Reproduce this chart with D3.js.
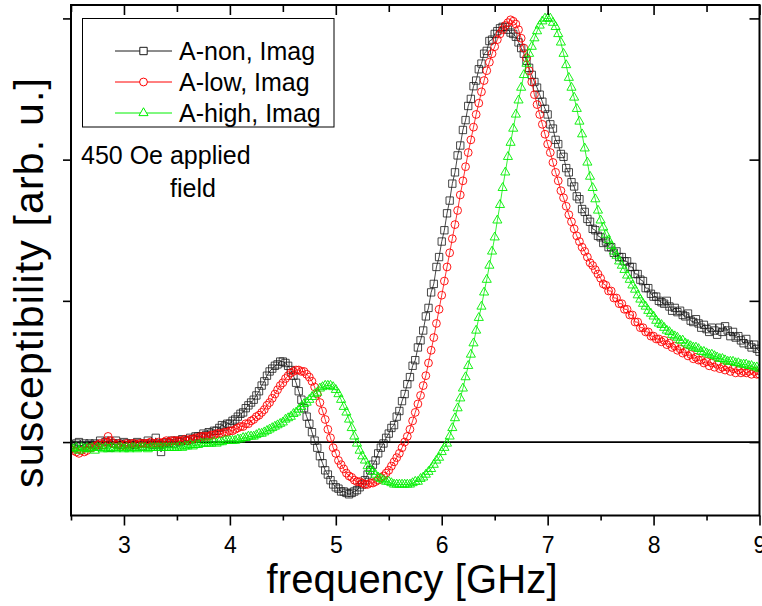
<!DOCTYPE html>
<html>
<head>
<meta charset="utf-8">
<script src="https://cdn.jsdelivr.net/npm/d3@7"></script>
<style>
  html, body { margin: 0; padding: 0; background: #fff; }
  svg { display: block; font-family: "Liberation Sans", Arial, sans-serif; }
</style>
</head>
<body>
<svg id="chart" width="762" height="606"></svg>
<script>
// Imaginary susceptibility spectra, sampled on a uniform frequency grid (GHz)
const freqStart = 2.5;
const freqStep = 0.025;

const seriesNames = ["A-non, Imag", "A-low, Imag", "A-high, Imag"];

const aNon = [
  -0.02,-0.04,-0.01,0.00,-0.03,-0.01,-0.04,-0.01,-0.02,-0.01,-0.03,0.01,-0.02,0.00,0.01,-0.04,-0.01,0.01,-0.01,-0.02,
  0.00,-0.01,-0.03,-0.01,-0.02,0.00,-0.01,-0.03,-0.01,0.01,-0.01,-0.02,0.03,-0.01,-0.07,-0.01,0.00,-0.01,0.01,-0.01,
  0.01,0.00,0.02,0.01,0.01,0.03,0.02,0.04,0.04,0.04,0.06,0.05,0.07,0.06,0.08,0.08,0.10,0.12,0.11,0.13,
  0.13,0.15,0.16,0.18,0.20,0.21,0.24,0.26,0.28,0.30,0.33,0.36,0.40,0.43,0.47,0.50,0.52,0.54,0.55,0.57,
  0.57,0.56,0.54,0.51,0.47,0.42,0.36,0.30,0.24,0.18,0.13,0.07,0.01,-0.04,-0.10,-0.15,-0.20,-0.23,-0.27,-0.30,
  -0.32,-0.33,-0.35,-0.35,-0.36,-0.37,-0.36,-0.35,-0.34,-0.32,-0.30,-0.27,-0.23,-0.20,-0.16,-0.13,-0.08,-0.04,-0.01,0.03,
  0.06,0.10,0.12,0.18,0.22,0.29,0.34,0.41,0.46,0.54,0.58,0.67,0.72,0.79,0.89,0.95,1.06,1.12,1.24,1.31,
  1.42,1.50,1.62,1.71,1.83,1.91,2.03,2.10,2.21,2.28,2.38,2.43,2.52,2.56,2.64,2.68,2.75,2.77,2.84,2.85,
  2.89,2.91,2.93,2.94,2.94,2.92,2.90,2.89,2.87,2.83,2.79,2.75,2.70,2.65,2.60,2.55,2.51,2.46,2.41,2.36,
  2.32,2.25,2.22,2.14,2.11,2.04,2.02,1.94,1.91,1.84,1.81,1.74,1.72,1.65,1.63,1.58,1.56,1.51,1.50,1.46,
  1.45,1.41,1.42,1.38,1.38,1.34,1.35,1.31,1.31,1.28,1.28,1.24,1.24,1.19,1.19,1.15,1.14,1.09,1.09,1.05,
  1.03,1.03,1.00,0.99,0.98,1.00,0.96,0.93,0.95,0.92,0.93,0.90,0.89,0.91,0.86,0.85,0.87,0.84,0.81,0.83,
  0.80,0.78,0.81,0.79,0.76,0.81,0.78,0.82,0.79,0.75,0.78,0.74,0.75,0.72,0.70,0.73,0.69,0.67,0.69,0.66,
  0.64
];

const aLow = [
  -0.05,-0.06,-0.07,-0.08,-0.06,-0.07,-0.06,-0.04,-0.04,-0.03,-0.02,-0.01,-0.02,0.00,0.04,0.01,-0.01,-0.02,-0.01,-0.03,
  -0.02,-0.01,-0.02,-0.01,-0.01,-0.02,-0.01,-0.01,-0.01,-0.01,0.00,-0.01,-0.01,0.00,-0.01,0.00,0.01,0.00,0.01,0.01,
  0.01,0.01,0.01,0.02,0.01,0.02,0.02,0.03,0.03,0.04,0.04,0.04,0.04,0.05,0.05,0.06,0.06,0.06,0.07,0.07,
  0.08,0.08,0.09,0.10,0.11,0.11,0.13,0.13,0.15,0.16,0.18,0.19,0.21,0.23,0.26,0.28,0.31,0.34,0.37,0.40,
  0.42,0.45,0.47,0.49,0.50,0.51,0.51,0.50,0.50,0.48,0.46,0.43,0.39,0.34,0.28,0.22,0.16,0.09,0.03,-0.04,
  -0.08,-0.13,-0.16,-0.19,-0.22,-0.24,-0.25,-0.27,-0.28,-0.28,-0.29,-0.30,-0.30,-0.29,-0.29,-0.28,-0.27,-0.25,-0.24,-0.22,
  -0.20,-0.17,-0.14,-0.11,-0.08,-0.04,0.00,0.04,0.09,0.15,0.21,0.27,0.33,0.40,0.47,0.56,0.65,0.74,0.84,0.94,
  1.04,1.14,1.24,1.34,1.44,1.54,1.64,1.75,1.85,1.95,2.05,2.14,2.23,2.32,2.40,2.48,2.56,2.63,2.69,2.75,
  2.80,2.85,2.89,2.92,2.95,2.97,2.99,2.98,2.96,2.92,2.86,2.79,2.72,2.63,2.55,2.46,2.39,2.32,2.25,2.18,
  2.11,2.05,1.98,1.91,1.85,1.78,1.73,1.67,1.61,1.56,1.51,1.46,1.42,1.38,1.35,1.31,1.27,1.25,1.22,1.19,
  1.16,1.12,1.11,1.07,1.07,1.02,1.02,0.98,0.98,0.94,0.94,0.90,0.90,0.85,0.85,0.81,0.81,0.78,0.78,0.75,
  0.75,0.73,0.73,0.71,0.72,0.69,0.70,0.67,0.68,0.65,0.66,0.63,0.64,0.61,0.62,0.59,0.60,0.58,0.58,0.56,
  0.57,0.54,0.56,0.53,0.55,0.52,0.53,0.51,0.53,0.50,0.52,0.49,0.51,0.49,0.50,0.49,0.50,0.48,0.50,0.48,
  0.48
];

const aHigh = [
  -0.04,-0.05,-0.04,-0.06,-0.04,-0.05,-0.04,-0.05,-0.04,-0.06,-0.04,-0.04,-0.05,-0.04,-0.05,-0.04,-0.04,-0.05,-0.04,-0.04,
  -0.05,-0.04,-0.05,-0.04,-0.04,-0.05,-0.04,-0.04,-0.04,-0.05,-0.04,-0.04,-0.04,-0.04,-0.04,-0.04,-0.04,-0.04,-0.04,-0.04,
  -0.04,-0.03,-0.04,-0.03,-0.03,-0.02,-0.03,-0.02,-0.02,-0.01,-0.01,-0.01,-0.01,-0.01,0.00,-0.01,0.00,0.00,0.01,0.01,
  0.01,0.01,0.01,0.02,0.02,0.03,0.03,0.04,0.04,0.04,0.05,0.06,0.06,0.07,0.08,0.09,0.10,0.11,0.12,0.13,
  0.14,0.16,0.17,0.18,0.20,0.21,0.23,0.25,0.27,0.28,0.30,0.32,0.34,0.35,0.38,0.39,0.40,0.40,0.40,0.39,
  0.37,0.34,0.30,0.25,0.21,0.16,0.10,0.04,-0.01,-0.06,-0.10,-0.13,-0.17,-0.19,-0.21,-0.23,-0.25,-0.26,-0.27,-0.28,
  -0.28,-0.29,-0.30,-0.30,-0.30,-0.30,-0.30,-0.30,-0.30,-0.29,-0.28,-0.28,-0.26,-0.25,-0.23,-0.21,-0.19,-0.16,-0.13,-0.11,
  -0.07,-0.04,-0.01,0.04,0.10,0.17,0.24,0.31,0.38,0.46,0.54,0.62,0.70,0.79,0.88,0.96,1.06,1.15,1.25,1.35,
  1.45,1.57,1.68,1.80,1.91,2.02,2.12,2.22,2.32,2.42,2.51,2.60,2.68,2.75,2.80,2.86,2.91,2.95,2.98,3.00,
  3.00,3.00,2.97,2.94,2.89,2.83,2.75,2.67,2.58,2.51,2.44,2.36,2.27,2.18,2.08,1.98,1.88,1.80,1.72,1.64,
  1.57,1.52,1.47,1.43,1.39,1.35,1.32,1.28,1.25,1.22,1.18,1.15,1.11,1.08,1.04,1.01,0.98,0.96,0.93,0.91,
  0.89,0.86,0.84,0.83,0.81,0.79,0.78,0.76,0.75,0.74,0.72,0.72,0.70,0.69,0.68,0.67,0.67,0.66,0.64,0.64,
  0.63,0.62,0.62,0.61,0.60,0.59,0.59,0.58,0.57,0.57,0.57,0.56,0.56,0.55,0.55,0.55,0.54,0.54,0.53,0.53,
  0.52
];

const xMajorTicks = [3, 4, 5, 6, 7, 8, 9];
const xMinorTicks = [2.5, 3.5, 4.5, 5.5, 6.5, 7.5, 8.5];
const yTicks = [0, 1, 2, 3];
const annotationLines = ["450 Oe applied", "field"];

// ---- layout ----
const width = 762, height = 606;
const margin = { top: 5, right: 2.5, bottom: 90.5, left: 71 };
const plotW = width - margin.left - margin.right;
const plotH = height - margin.top - margin.bottom;

const x = d3.scaleLinear().domain([2.5, 9]).range([margin.left, margin.left + plotW]);
const y = d3.scaleLinear().domain([-0.52, 3.095]).range([margin.top + plotH, margin.top]);

const svg = d3.select("#chart");

svg.append("defs").append("clipPath").attr("id", "plot-clip")
  .append("rect")
  .attr("x", margin.left).attr("y", margin.top)
  .attr("width", plotW).attr("height", plotH);

// zero reference line
svg.append("line")
  .attr("x1", x(2.5)).attr("x2", x(9))
  .attr("y1", y(0)).attr("y2", y(0))
  .attr("stroke", "#000").attr("stroke-width", 1.8);

// ---- data ----
const series = [
  { name: seriesNames[0], values: aNon,  color: "#1a1a1a", shape: "square" },
  { name: seriesNames[1], values: aLow,  color: "#ff0000", shape: "circle" },
  { name: seriesNames[2], values: aHigh, color: "#00f000", shape: "triangle" }
];

const symbolFor = {
  square:   d3.symbol().type(d3.symbolSquare).size(54),
  circle:   d3.symbol().type(d3.symbolCircle).size(48),
  triangle: d3.symbol().type(d3.symbolTriangle).size(36)
};

const line = d3.line()
  .x(d => x(d.f))
  .y(d => y(d.v));

const dataLayer = svg.append("g").attr("clip-path", "url(#plot-clip)");

series.forEach(s => {
  const pts = s.values.map((v, i) => ({ f: freqStart + i * freqStep, v }));
  const g = dataLayer.append("g");
  g.append("path")
    .attr("d", line(pts))
    .attr("fill", "none")
    .attr("stroke", s.color)
    .attr("stroke-width", 1)
    .attr("stroke-opacity", 0.8);
  g.selectAll("path.pt").data(pts).enter().append("path")
    .attr("class", "pt")
    .attr("transform", d => `translate(${x(d.f)},${y(d.v)})`)
    .attr("d", symbolFor[s.shape]())
    .attr("fill", "none")
    .attr("stroke", s.color)
    .attr("stroke-opacity", s.shape === "square" ? 0.8 : 0.9)
    .attr("stroke-width", 1);
});

// ---- axes ----
function styleAxis(g) {
  g.select(".domain").remove();
  g.selectAll(".tick line").attr("stroke", "#000").attr("stroke-width", 1.6);
}

const bottomY = margin.top + plotH;

svg.append("g").attr("transform", `translate(0,${bottomY})`)
  .call(d3.axisBottom(x).tickValues(xMajorTicks).tickSize(10).tickPadding(11).tickFormat(d3.format("d")))
  .call(styleAxis)
  .call(g => g.selectAll("text").attr("font-size", 23).attr("fill", "#000")
    .attr("font-family", "'Liberation Sans', Arial, sans-serif"));

svg.append("g").attr("transform", `translate(0,${bottomY})`)
  .call(d3.axisBottom(x).tickValues(xMinorTicks).tickSize(5).tickFormat(""))
  .call(styleAxis);

svg.append("g").attr("transform", `translate(0,${margin.top})`)
  .call(d3.axisTop(x).tickValues(xMajorTicks).tickSize(-10).tickFormat(""))
  .call(styleAxis);

svg.append("g").attr("transform", `translate(0,${margin.top})`)
  .call(d3.axisTop(x).tickValues(xMinorTicks).tickSize(-7).tickFormat(""))
  .call(styleAxis);

svg.append("g").attr("transform", `translate(${margin.left},0)`)
  .call(d3.axisLeft(y).tickValues(yTicks).tickSize(8).tickFormat(""))
  .call(styleAxis);

svg.append("g").attr("transform", `translate(${margin.left + plotW},0)`)
  .call(d3.axisRight(y).tickValues(yTicks).tickSize(-10).tickFormat(""))
  .call(styleAxis);

// plot frame
svg.append("rect")
  .attr("x", margin.left).attr("y", margin.top)
  .attr("width", plotW).attr("height", plotH)
  .attr("fill", "none").attr("stroke", "#000").attr("stroke-width", 2);

// axis titles
svg.append("text")
  .attr("x", 412).attr("y", 593)
  .attr("text-anchor", "middle")
  .attr("font-size", 40)
  .attr("textLength", 291)
  .attr("lengthAdjust", "spacing")
  .text("frequency [GHz]");

svg.append("text")
  .attr("transform", "translate(43,283) rotate(-90)")
  .attr("text-anchor", "middle")
  .attr("font-size", 41)
  .attr("textLength", 410)
  .attr("lengthAdjust", "spacing")
  .text("susceptibility [arb. u.]");

// ---- legend ----
const legend = svg.append("g");
legend.append("rect")
  .attr("x", 82.5).attr("y", 18.5)
  .attr("width", 251.5).attr("height", 108.5)
  .attr("fill", "#fff").attr("stroke", "#000").attr("stroke-width", 1);

const rowY = [51, 82, 113];
series.forEach((s, i) => {
  const row = legend.append("g");
  row.append("line")
    .attr("x1", 115).attr("x2", 172)
    .attr("y1", rowY[i]).attr("y2", rowY[i])
    .attr("stroke", s.color).attr("stroke-width", 1);
  row.append("path")
    .attr("transform", `translate(143.5,${rowY[i]})`)
    .attr("d", symbolFor[s.shape]())
    .attr("fill", "#fff")
    .attr("stroke", s.color).attr("stroke-width", 1);
  row.append("text")
    .attr("x", 179).attr("y", rowY[i] + 8.7)
    .attr("font-size", 25)
    .text(s.name);
});

// ---- annotation ----
svg.append("text").attr("x", 81).attr("y", 164).attr("font-size", 25).text(annotationLines[0]);
svg.append("text").attr("x", 170).attr("y", 197).attr("font-size", 25).text(annotationLines[1]);
</script>
</body>
</html>
